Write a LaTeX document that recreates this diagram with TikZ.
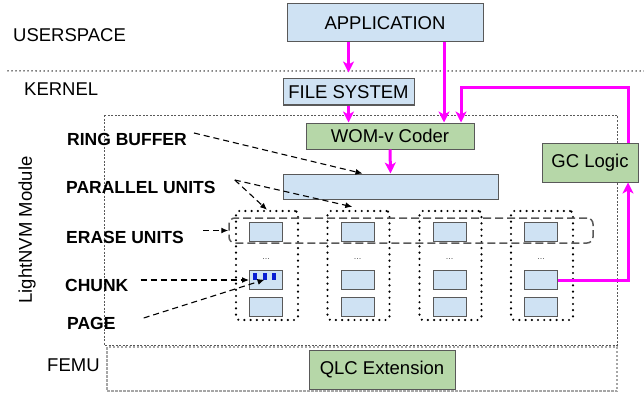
\documentclass[tikz,border=0pt]{standalone}
\usepackage{fontspec}
\setmainfont{Liberation Sans}
\usetikzlibrary{arrows.meta}
\definecolor{nvmblue}{HTML}{CFE2F3}
\definecolor{nvmgreen}{HTML}{B6D7A8}
\definecolor{nvmpink}{HTML}{FF00FF}
\definecolor{nvmgray}{HTML}{595959}
\definecolor{nvmmark}{HTML}{0A1ED2}

\begin{document}
\begin{tikzpicture}[x=1pt,y=-1pt,
  box/.style={draw=nvmgray,line width=1pt,inner sep=0pt,font=\fontsize{18.5}{20}\selectfont},
  bluebox/.style={box,fill=nvmblue},
  greenbox/.style={box,fill=nvmgreen},
  cell/.style={draw=nvmgray,line width=1pt,fill=nvmblue,minimum width=33pt,minimum height=19pt,inner sep=0pt},
  unitbox/.style={draw,line width=2.4pt,line cap=round,dash pattern=on 0pt off 6.2pt,rounded corners=3pt,minimum width=62pt,minimum height=109pt,inner sep=0pt},
  erasebox/.style={draw=nvmgray,line width=1.5pt,dash pattern=on 8pt off 4pt,rounded corners=6pt,inner sep=0pt},
  tag/.style={anchor=west,inner sep=0pt,font=\fontsize{17.5}{19}\bfseries},
  layertext/.style={anchor=west,inner sep=0pt,font=\fontsize{18.5}{20}\selectfont},
  flow/.style={nvmpink,line width=3pt,-{Stealth[length=11pt,width=11pt,inset=3pt]}},
  pointer/.style={black,line width=1.1pt,dash pattern=on 6pt off 4pt,-{Latex[length=7pt,width=6pt]}},
  ellip/.style={font=\fontsize{9}{9}\selectfont,text=nvmgray},
  pagemark/.style={fill=nvmmark,draw=nvmmark,minimum width=3pt,minimum height=6pt,inner sep=0pt}]
  \useasboundingbox (0,0) rectangle (644,393);

  % layers
  \node[layertext] (user) at (13,35) {USERSPACE};
  \node[layertext] (kern) at (24,89) {KERNEL};
  \node[layertext] (femu) at (47,365) {FEMU};
  \draw[line width=1.5pt,line cap=round,dash pattern=on 0pt off 4pt] (8,71) -- (644,71);
  \draw[nvmgray,line width=0.8pt,dash pattern=on 2pt off 1.5pt] (104,115) rectangle (617,345);
  \draw[gray!70,line width=1.6pt,dash pattern=on 2.5pt off 1.5pt] (107,347) rectangle (617,391);
  \node[rotate=90,font=\fontsize{18.5}{20}\selectfont] (lnvm) at (27,230) {LightNVM Module};

  % boxes
  \node[bluebox,minimum width=196pt,minimum height=38pt] (app) at (385,23) {APPLICATION};
  \node[bluebox,minimum width=131pt,minimum height=26pt] (fs) at (348.5,92) {FILE SYSTEM};
  \node[greenbox,minimum width=168pt,minimum height=26pt] (wom) at (390,136) {WOM-v Coder};
  \node[greenbox,minimum width=96pt,minimum height=39pt] (gc) at (590,162.5) {GC Logic};
  \node[bluebox,minimum width=215pt,minimum height=25pt] (ring) at (390.5,186.5) {};
  \node[greenbox,minimum width=146pt,minimum height=39pt] (qlc) at (382,369.5) {QLC Extension};

  % parallel units
  \foreach \cx [count=\i] in {266,357.5,449.5,541} {
    \node[unitbox] (u\i) at (\cx+1,265.5) {};
    \node[cell] (top\i) at (\cx,231.5) {};
    \node[ellip] (dd\i) at (\cx,259) {...};
    \node[cell] (mid\i) at (\cx,280) {};
    \node[cell] (bot\i) at (\cx,306.5) {};
  }
  \node[erasebox,minimum width=364pt,minimum height=25pt] (erase) at (411,230.5) {};
  \node[pagemark] (mk1) at (255,276.5) {};
  \node[pagemark] (mk2) at (264.5,276.5) {};
  \node[pagemark] (mk3) at (274,276) {};

  % labels
  \node[tag] (rb) at (67,139) {RING BUFFER};
  \node[tag] (pu) at (66,187) {PARALLEL UNITS};
  \node[tag] (eu) at (66,237) {ERASE UNITS};
  \node[tag] (ck) at (65,285) {CHUNK};
  \node[tag] (pg) at (67,323) {PAGE};

  % magenta flows
  \coordinate (appx) at (444,0);
  \coordinate (womx) at (461,0);
  \coordinate (gcup) at (628,88);
  \draw[flow,shorten >=6pt] (fs.north |- app.south) -- (fs.north);
  \draw[flow] (fs.south) -- (fs.south |- wom.north);
  \draw[flow] (app.south -| appx) -- (wom.north -| appx);
  \draw[flow] (gc.north -| gcup) -- (gcup) -| (wom.north -| womx);
  \draw[flow] (wom.south) -- (ring.north);
  \draw[flow] (mid4.east) -| (gc.south -| gcup);

  % pointers
  \draw[pointer] ([shift={(7,-6)}]rb.east) -- ([xshift=80pt]ring.north west);
  \draw[pointer] ([shift={(19,-7)}]pu.east) -- ([shift={(26,-3)}]u2.north west);
  \draw[pointer] ([shift={(19,-7)}]pu.east) -- (u1.north);
  \draw[pointer] ([xshift=19pt]eu.east |- erase.west) -- (erase.west);
  \draw[pointer] ([xshift=12pt]ck.east |- mid1.west) -- (mid1.west);
  \draw[pointer] ([shift={(28,-5)}]pg.east) -- (mk2.south);
\end{tikzpicture}
\end{document}
